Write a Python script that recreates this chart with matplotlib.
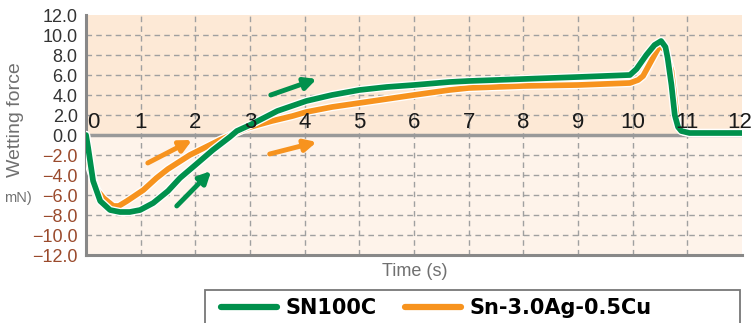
import matplotlib
matplotlib.use("Agg")
import matplotlib.pyplot as plt
import matplotlib.patheffects as pe
from matplotlib.patches import Rectangle

# data
sn100c_t = [0, 0.04, 0.13, 0.26, 0.44, 0.62, 0.8, 0.99, 1.23, 1.5, 1.72, 2.0, 2.32, 2.63, 2.76,
            3.0, 3.5, 4.03, 4.5, 5.0, 5.5, 6.0, 6.65, 7.0, 8.0, 9.0, 9.95, 10.07, 10.25, 10.4,
            10.52, 10.6, 10.64, 10.71, 10.77, 10.83, 10.89, 11.04, 12]
sn100c_f = [0, -1.3, -4.6, -6.6, -7.5, -7.7, -7.7, -7.5, -6.8, -5.6, -4.3, -3.0, -1.5, -0.2, 0.4,
            1.0, 2.4, 3.4, 4.0, 4.5, 4.8, 5.0, 5.3, 5.4, 5.6, 5.8, 6.0, 6.6, 8.0, 9.0,
            9.4, 8.8, 7.7, 5.0, 2.0, 0.8, 0.4, 0.2, 0.2]

sac_t = [0, 0.07, 0.2, 0.32, 0.5, 0.6, 0.75, 1.05, 1.29, 1.5, 1.9, 2.45, 2.94, 3.4, 3.78,
         4.03, 4.5, 5.0, 5.5, 6.0, 6.65, 7.0, 8.0, 9.0, 9.95, 10.1, 10.19, 10.37, 10.5,
         10.6, 10.71, 10.77, 10.83, 10.95, 11.1, 12]
sac_f = [0, -3.3, -5.5, -6.3, -7.1, -7.1, -6.6, -5.5, -4.3, -3.4, -2.0, -0.5, 0.7, 1.4, 1.9,
         2.3, 2.8, 3.2, 3.6, 4.0, 4.5, 4.7, 4.9, 5.0, 5.2, 5.5, 5.9, 7.7, 9.0,
         8.4, 6.4, 3.5, 0.9, 0.3, 0.2, 0.2]

x_ticks = list(range(0, 13))
y_ticks = [12, 10, 8, 6, 4, 2, 0, -2, -4, -6, -8, -10, -12]

# arrows: (start, end) in data units
green_arrows = [((1.66, -7.1), (2.29, -3.6)), ((3.38, 4.0), (4.22, 5.6))]
orange_arrows = [((1.13, -2.8), (1.94, -0.5)), ((3.36, -1.9), (4.22, -0.7))]

GREEN = '#00904c'
ORANGE = '#f7931e'
GRID = '#a0a0a0'

plt.rcParams['font.family'] = ['Liberation Sans', 'DejaVu Sans']

fig = plt.figure(figsize=(7.52, 3.23), dpi=100)
ax = fig.add_axes([86 / 752, 1 - 255 / 323, 656 / 752, 240 / 323])
ax.set_xlim(0, 12)
ax.set_ylim(-12, 12)

ax.axhspan(0, 12, color='#fde9d6', zorder=0, lw=0)
ax.axhspan(-12, 0, color='#fef3ea', zorder=0, lw=0)

for x in x_ticks[1:-1]:
    ax.axvline(x, color=GRID, lw=1, ls=(0, (4, 3)), zorder=1)
for y in y_ticks[1:-1]:
    if y != 0:
        ax.axhline(y, color=GRID, lw=1, ls=(0, (4, 3)), zorder=1)
ax.axhline(0, color='#999999', lw=2.5, zorder=2)

for s in ['top', 'right']:
    ax.spines[s].set_visible(False)
for s in ['left', 'bottom']:
    ax.spines[s].set_color('#888888')
    ax.spines[s].set_linewidth(2.2)

halo = [pe.Stroke(linewidth=6, foreground='white'), pe.Normal()]
ax.plot(sac_t, sac_f, color=ORANGE, lw=4.1, zorder=3, solid_capstyle='round',
        path_effects=halo, label='Sn-3.0Ag-0.5Cu')
ax.plot(sn100c_t, sn100c_f, color=GREEN, lw=4.1, zorder=4, solid_capstyle='round',
        path_effects=halo, label='SN100C')

for arrows, c in [(green_arrows, GREEN), (orange_arrows, ORANGE)]:
    for a, b in arrows:
        ax.annotate('', xy=b, xytext=a,
                    arrowprops=dict(arrowstyle='-|>,head_length=0.7,head_width=0.35',
                                    color=c, lw=3.5, shrinkA=0, shrinkB=0), zorder=5)

# x tick labels drawn inside the plot above the zero line
ax.set_xticks(x_ticks)
ax.set_xticklabels([])
ax.tick_params(axis='x', length=0)
for x in x_ticks:
    ha = 'left' if x == 0 else 'center'
    xpos = x + 0.02 if x == 0 else (x - 0.05 if x == 12 else x)
    ax.text(xpos, 0.7, str(x), ha=ha, va='baseline',
            fontsize=16, color='#1a1a1a', zorder=6, clip_on=False)

ax.set_yticks(y_ticks)
ax.set_yticklabels([f'{v:.1f}'.replace('-', '\u2212') for v in y_ticks], fontsize=13)
ax.tick_params(axis='y', length=0, pad=6)
for lab, v in zip(ax.get_yticklabels(), y_ticks):
    lab.set_color('#9a4a2c' if v < 0 else '#333333')

fig.text(16 / 752, 1 - 120 / 323, 'Wetting force', rotation=90, ha='center', va='center',
         fontsize=14, color='#707070')
fig.text(18 / 752, 1 - 198 / 323, 'mN)', ha='center', va='center',
         fontsize=10.5, color='#707070')
fig.text(415 / 752, 1 - 271 / 323, 'Time (s)', ha='center', va='center',
         fontsize=13, color='#707070')

fig.patches.append(Rectangle((205 / 752, -0.05), 535 / 752, 1 - 290 / 323 + 0.05,
                             transform=fig.transFigure, fill=False, ec='#777777', lw=1.3))
handles, labels = ax.get_legend_handles_labels()
leg = fig.legend(handles[::-1], labels[::-1], loc='center', ncol=2,
                 bbox_to_anchor=(436 / 752, 1 - 308 / 323), frameon=False,
                 handlelength=2.7, columnspacing=1.35, handletextpad=0.4,
                 prop={'family': ['DejaVu Sans'], 'weight': 'bold', 'size': 15})
for h in leg.get_lines():
    h.set_path_effects([])
    h.set_linewidth(4.5)

fig.savefig('out.png', dpi=100)
